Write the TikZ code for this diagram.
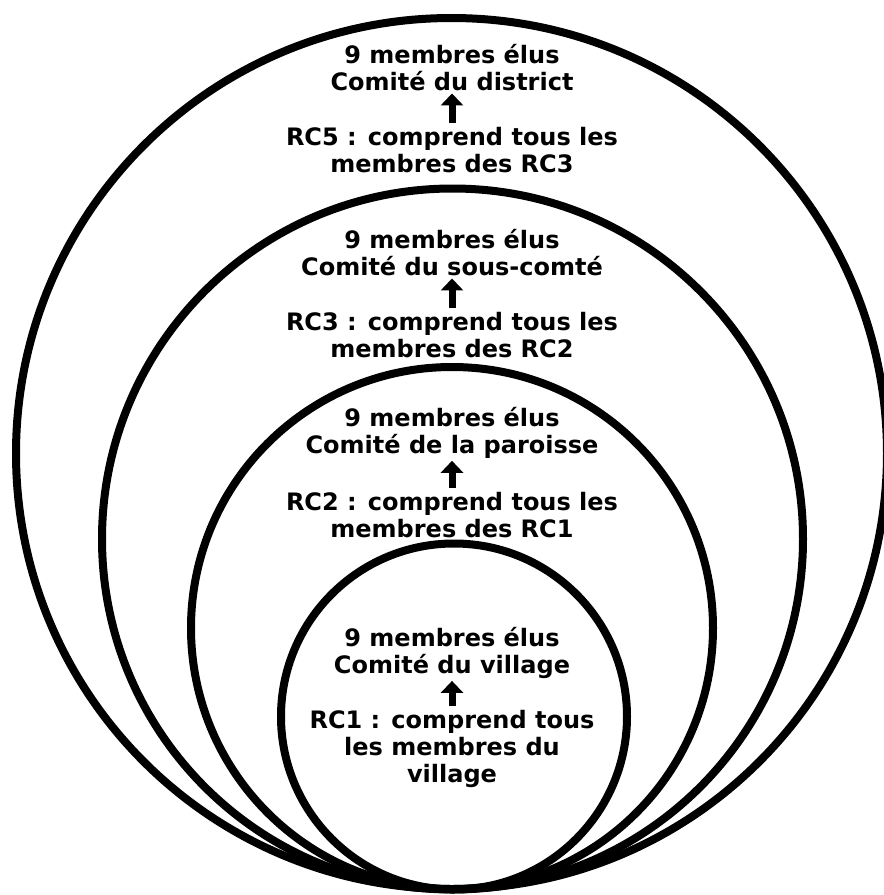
\documentclass[tikz,border=0pt]{standalone}
\usepackage{fontspec}
\setmainfont{DejaVu Sans}
\usetikzlibrary{arrows.meta}
\tikzset{
  ring/.style={line width=8pt, draw=black},
  lbl/.style={align=center, inner sep=0pt, font=\fontsize{24}{27}\selectfont\bfseries},
  uparrow/.style={line width=7pt, -{Triangle[length=12pt,width=22pt]}, shorten >=2pt, shorten <=4pt}
}
\begin{document}
\begin{tikzpicture}[x=1pt,y=-1pt]
\useasboundingbox (0,0) rectangle (884,895);
\clip (0,0) rectangle (884,895);
\fill[white] (0,0) rectangle (884,895);
\draw[ring] (451.5,453.5) circle (435.5pt);
\draw[ring] (452.5,539) circle (350.5pt);
\draw[ring] (452,628) circle (261pt);
\draw[ring] (454,716.5) circle (173pt);

\node[lbl] (t5) at (452,68) {9 membres élus\\Comité du district};
\node[lbl] (b5) at (452,150) {RC5 : comprend tous les\\membres des RC3};
\node[lbl] (t3) at (452,253) {9 membres élus\\Comité du sous-comté};
\node[lbl] (b3) at (452,335) {RC3 : comprend tous les\\membres des RC2};
\node[lbl] (t2) at (452,433) {9 membres élus\\Comité de la paroisse};
\node[lbl] (b2) at (452,515) {RC2 : comprend tous les\\membres des RC1};
\node[lbl] (t1) at (452,653) {9 membres élus\\Comité du village};
\node[lbl] (b1) at (452,748.5) {RC1 : comprend tous\\les membres du\\village};

\foreach \b/\t in {b5/t5,b3/t3,b2/t2,b1/t1}
  \draw[uparrow] (\b.north) -- (\t.south);
\end{tikzpicture}
\end{document}
